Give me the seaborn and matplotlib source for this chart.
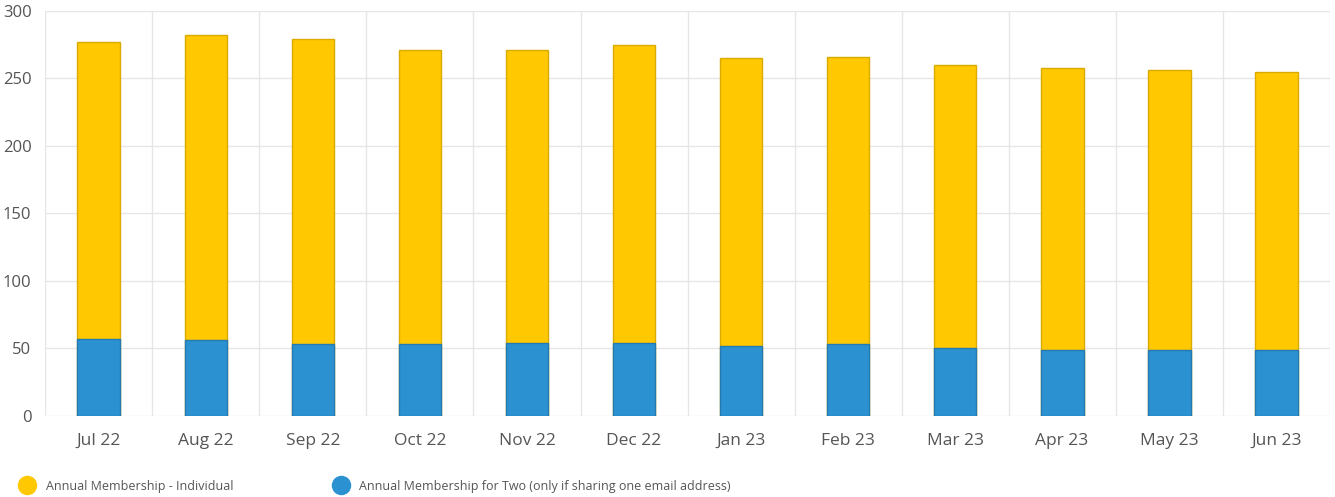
import numpy as np
import pandas as pd
import seaborn as sns
import matplotlib.pyplot as plt
from matplotlib.lines import Line2D

# data
months = ["Jul 22", "Aug 22", "Sep 22", "Oct 22", "Nov 22", "Dec 22",
          "Jan 23", "Feb 23", "Mar 23", "Apr 23", "May 23", "Jun 23"]
individual = [220, 226, 226, 218, 217, 221, 213, 213, 210, 209, 207, 206]
for_two = [57, 56, 53, 53, 54, 54, 52, 53, 50, 49, 49, 49]

label_individual = "Annual Membership - Individual"
label_two = "Annual Membership for Two (only if sharing one email address)"

yellow = "#FFC800"
yellow_edge = "#D9AA00"
blue = "#2B91D1"
blue_edge = "#2479B3"
text_col = "#555555"
grid_col = "#E6E6E6"

sns.set_theme(style="white")
plt.rcParams["font.family"] = ["Open Sans", "DejaVu Sans"]

df = pd.DataFrame({"month": months, "individual": individual, "two": for_two})
df["total"] = df["individual"] + df["two"]

fig = plt.figure(figsize=(13.35, 4.97), dpi=100)
ax = fig.add_axes([0.034, 0.163, 0.962, 0.815])

# stacked: total first (yellow), then the lower segment (blue) on top
sns.barplot(data=df, x="month", y="total", color=yellow, width=0.4,
            edgecolor=yellow_edge, linewidth=1, saturation=1, ax=ax, zorder=3)
sns.barplot(data=df, x="month", y="two", color=blue, width=0.4,
            edgecolor=blue_edge, linewidth=1, saturation=1, ax=ax, zorder=4)

ax.set_xlim(-0.5, len(months) - 0.5)
ax.set_ylim(0, 300)
ax.set_yticks(np.arange(0, 301, 50))
ax.set_xticks(np.arange(-0.5, len(months), 1), minor=True)
ax.set_xlabel("")
ax.set_ylabel("")

ax.grid(axis="y", which="major", color=grid_col, linewidth=1, zorder=0)
ax.grid(axis="x", which="minor", color=grid_col, linewidth=1, zorder=0)
ax.tick_params(axis="x", which="major", length=0, pad=12, labelsize=12.5, labelcolor=text_col)
ax.tick_params(axis="x", which="minor", length=5, color=grid_col, width=1)
ax.tick_params(axis="y", length=0, pad=10, labelsize=12, labelcolor=text_col)
for s in ax.spines.values():
    s.set_visible(False)

handles = [
    Line2D([], [], marker="o", linestyle="none", markersize=13,
           markerfacecolor=yellow, markeredgecolor=yellow, label=label_individual),
    Line2D([], [], marker="o", linestyle="none", markersize=13,
           markerfacecolor=blue, markeredgecolor=blue, label=label_two),
]
fig.legend(handles=handles, loc="center left", bbox_to_anchor=(0.0065, 0.022),
           ncol=2, frameon=False, fontsize=9, labelcolor=text_col,
           handletextpad=0.85, columnspacing=8.05, handlelength=1.2)

plt.savefig("out.png", dpi=100)
